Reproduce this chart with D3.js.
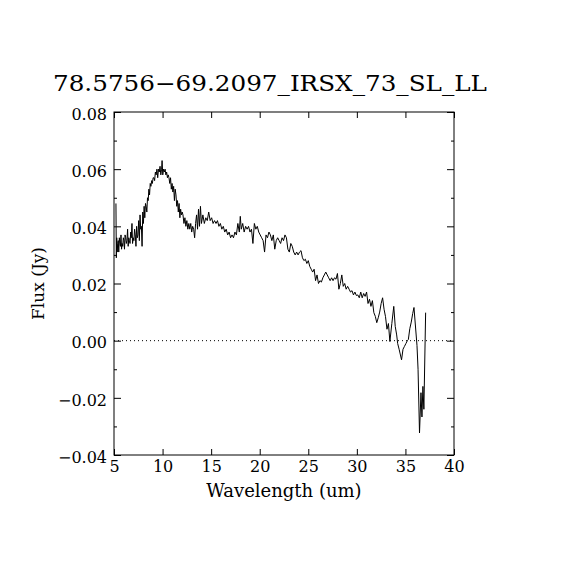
<!DOCTYPE html>
<html lang="en">
<head>
<meta charset="utf-8">
<title>IRS spectrum</title>
<script src="https://cdnjs.cloudflare.com/ajax/libs/d3/7.8.5/d3.min.js"></script>
<style>
  body { margin: 0; background: #fff; }
  text { font-family: "DejaVu Serif", "Liberation Serif", serif; fill: #000; }
</style>
</head>
<body>
<script>
var w = 570, h = 570;
var x0 = 114, x1 = 454, y0 = 112, y1 = 455;

var title = "78.5756\u221269.2097_IRSX_73_SL_LL";
var xLabel = "Wavelength (um)";
var yLabel = "Flux (Jy)";
var xTicks = [5, 10, 15, 20, 25, 30, 35, 40];
var yTicks = [-0.04, -0.02, 0.00, 0.02, 0.04, 0.06, 0.08];
var yMinor = [-0.03, -0.01, 0.01, 0.03, 0.05, 0.07];

// wavelength (um)
var wave = [
  5.20, 5.24, 5.28, 5.33, 5.38, 5.44, 5.49, 5.55, 5.61, 5.66, 5.72, 5.78,
  5.83, 5.90, 5.96, 6.02, 6.08, 6.14, 6.20, 6.27, 6.33, 6.40, 6.46, 6.52,
  6.59, 6.65, 6.72, 6.78, 6.85, 6.91, 6.98, 7.05, 7.12, 7.19, 7.26, 7.33,
  7.40, 7.47, 7.54, 7.61, 7.68, 7.75, 7.82, 7.89, 7.96, 8.03, 8.10, 8.17,
  8.24, 8.31, 8.38, 8.45, 8.52, 8.59, 8.66, 8.73, 8.80, 8.88, 8.95, 9.03,
  9.10, 9.18, 9.26, 9.34, 9.42, 9.50, 9.58, 9.66, 9.74, 9.82, 9.90, 9.95,
  10.02, 10.10, 10.18, 10.26, 10.34, 10.42, 10.50, 10.58, 10.66, 10.74, 10.82, 10.90,
  10.98, 11.06, 11.14, 11.22, 11.30, 11.38, 11.46, 11.54, 11.62, 11.70, 11.78, 11.86,
  11.94, 12.02,
  12.10, 12.20, 12.30, 12.40, 12.50, 12.60, 12.70, 12.80,
  12.90, 13.00, 13.10, 13.20, 13.30, 13.40, 13.50, 13.60, 13.70, 13.80, 13.90, 14.00,
  14.15, 14.30, 14.45, 14.60, 14.75, 14.90, 15.05, 15.20,
  15.35, 15.50, 15.65, 15.80, 15.95, 16.10, 16.25, 16.40, 16.55, 16.70, 16.85, 17.00,
  17.15, 17.30, 17.45, 17.60, 17.75, 17.90, 18.00, 18.10, 18.25, 18.40, 18.55, 18.70,
  18.85, 19.00, 19.15, 19.30, 19.45, 19.60, 19.75, 19.90, 20.05, 20.20, 20.35, 20.50,
  20.65, 20.80, 20.95, 21.10, 21.25, 21.40, 21.55, 21.70, 21.85, 22.00, 22.15, 22.30,
  22.45, 22.60, 22.75, 22.90, 23.05, 23.20, 23.35, 23.50, 23.65, 23.80, 23.95, 24.10,
  24.25, 24.40, 24.55, 24.70, 24.85, 25.00, 25.15, 25.30, 25.45, 25.60, 25.75, 25.90,
  26.05, 26.20, 26.35, 26.50, 26.65, 26.80, 26.95, 27.10, 27.25, 27.40, 27.55, 27.70,
  27.85, 28.00, 28.15, 28.30, 28.45, 28.60, 28.75, 28.90, 29.05, 29.20, 29.35, 29.50,
  29.65, 29.80, 29.95, 30.10, 30.25, 30.40, 30.55, 30.70, 30.85, 31.00, 31.15, 31.30,
  31.45, 31.60, 31.75, 31.90, 32.05, 32.20, 32.35, 32.50, 32.65, 32.80, 32.95, 33.10,
  33.25, 33.40, 33.60, 33.80, 33.95, 34.10, 34.20, 34.35, 34.60, 34.75, 34.90, 35.05,
  35.20, 35.30, 35.45, 35.60, 35.75, 35.88, 36.19, 36.30, 36.45, 36.60, 36.70, 36.80,
  36.90, 37.08
];

// flux (Jy)
var flux = [
  0.048, 0.029, 0.036, 0.031, 0.034, 0.035, 0.031, 0.036, 0.034, 0.033, 0.037, 0.032,
  0.034, 0.033, 0.036, 0.035, 0.032, 0.037, 0.036, 0.034, 0.035, 0.039, 0.033, 0.036,
  0.035, 0.034, 0.038, 0.036, 0.041, 0.034, 0.036, 0.035, 0.039, 0.037, 0.033, 0.040,
  0.036, 0.037, 0.042, 0.035, 0.044, 0.039, 0.040, 0.033, 0.045, 0.041, 0.047, 0.043,
  0.048, 0.047, 0.045, 0.050, 0.049, 0.053, 0.051, 0.055, 0.054, 0.056, 0.055, 0.057,
  0.057, 0.056, 0.059, 0.058, 0.060, 0.057, 0.060, 0.059, 0.061, 0.058, 0.060, 0.063,
  0.058, 0.060, 0.059, 0.060, 0.058, 0.059, 0.057, 0.058, 0.057, 0.055, 0.057, 0.053,
  0.055, 0.052, 0.054, 0.049, 0.053, 0.051, 0.047, 0.049, 0.045, 0.048, 0.043, 0.046,
  0.044, 0.045,
  0.044, 0.041, 0.043, 0.040, 0.042, 0.039, 0.041, 0.039,
  0.041, 0.038, 0.040, 0.039, 0.036, 0.041, 0.044, 0.039, 0.046, 0.040, 0.047, 0.041,
  0.044, 0.041, 0.043, 0.042, 0.045, 0.042, 0.043, 0.041,
  0.042, 0.041, 0.042, 0.040, 0.041, 0.039, 0.040, 0.038, 0.039, 0.037, 0.038, 0.036,
  0.037, 0.036, 0.038, 0.037, 0.041, 0.038, 0.0435, 0.039, 0.041, 0.038, 0.040, 0.039,
  0.040, 0.038, 0.039, 0.034, 0.041, 0.039, 0.040, 0.038, 0.037, 0.036, 0.035, 0.031,
  0.037, 0.036, 0.038, 0.037, 0.035, 0.037, 0.032, 0.035, 0.036, 0.035, 0.034, 0.036,
  0.035, 0.037, 0.036, 0.032, 0.031, 0.034, 0.033, 0.031, 0.030, 0.031, 0.030, 0.031,
  0.0315, 0.029, 0.028, 0.0285, 0.027, 0.028, 0.026, 0.025, 0.024, 0.025, 0.021, 0.023,
  0.020, 0.021, 0.0205, 0.022, 0.023, 0.024, 0.023, 0.022, 0.021, 0.022, 0.021, 0.022,
  0.0215, 0.0235, 0.018, 0.020, 0.023, 0.019, 0.020, 0.018, 0.019, 0.018, 0.017, 0.0175,
  0.016, 0.017, 0.0158, 0.016, 0.015, 0.017, 0.015, 0.0165, 0.0155, 0.017, 0.013, 0.0145,
  0.012, 0.014, 0.0098, 0.0085, 0.0063, 0.008, 0.010, 0.013, 0.015, 0.011, 0.0084, 0.004,
  0.006, -0.0003, 0.006, 0.012, 0.005, 0.002, -0.001, -0.003, -0.0067, -0.003, -0.002, -0.001,
  0.000, 0.0004, 0.0042, 0.0065, 0.0095, 0.0116, -0.0017, -0.010, -0.0323, -0.0182, -0.0267, -0.016,
  -0.024, 0.0098
];

var svg = d3.select("body").append("svg")
  .attr("width", w)
  .attr("height", h);

svg.append("rect").attr("width", w).attr("height", h).attr("fill", "#fff");

var x = d3.scaleLinear().domain([5, 40]).range([x0, x1]);
var y = d3.scaleLinear().domain([-0.04, 0.08]).range([y1, y0]);

// zero line
svg.append("line")
  .attr("x1", x(5)).attr("x2", x(40))
  .attr("y1", y(0)).attr("y2", y(0))
  .attr("stroke", "#000")
  .attr("stroke-width", 1)
  .attr("stroke-dasharray", "1,3");

// spectrum
var pts = wave.map(function(d, i) { return [d, flux[i]]; });
svg.append("path")
  .datum(pts)
  .attr("fill", "none")
  .attr("stroke", "#000")
  .attr("stroke-width", 1)
  .attr("d", d3.line().x(function(d) { return x(d[0]); }).y(function(d) { return y(d[1]); }));

// frame
svg.append("rect")
  .attr("x", x0).attr("y", y0)
  .attr("width", x1 - x0).attr("height", y1 - y0)
  .attr("fill", "none")
  .attr("stroke", "#000")
  .attr("stroke-width", 1);

// axes with inward ticks
var fmtY = function(d) { return d3.format(".2f")(d).replace("-", "\u2212"); };

var xb = svg.append("g").attr("transform", "translate(0," + y1 + ")")
  .call(d3.axisBottom(x).tickValues(xTicks).tickSize(-6).tickPadding(6));
var xt = svg.append("g").attr("transform", "translate(0," + y0 + ")")
  .call(d3.axisTop(x).tickValues(xTicks).tickSize(-6).tickFormat(""));
var yl = svg.append("g").attr("transform", "translate(" + x0 + ",0)")
  .call(d3.axisLeft(y).tickValues(yTicks).tickSize(-7).tickPadding(7).tickFormat(fmtY));
var yr = svg.append("g").attr("transform", "translate(" + x1 + ",0)")
  .call(d3.axisRight(y).tickValues(yTicks).tickSize(-7).tickFormat(""));
var ylm = svg.append("g").attr("transform", "translate(" + x0 + ",0)")
  .call(d3.axisLeft(y).tickValues(yMinor).tickSize(-3).tickFormat(""));
var yrm = svg.append("g").attr("transform", "translate(" + x1 + ",0)")
  .call(d3.axisRight(y).tickValues(yMinor).tickSize(-3).tickFormat(""));

[xb, xt, yl, yr, ylm, yrm].forEach(function(g) {
  g.select(".domain").remove();
  g.selectAll("line").attr("stroke", "#000");
  g.selectAll("text")
    .attr("font-family", "DejaVu Serif, Liberation Serif, serif")
    .attr("font-size", 16)
    .attr("fill", "#000");
});
yl.selectAll("text").attr("dy", "0.45em");

// title and labels
svg.append("text")
  .attr("x", 270).attr("y", 91)
  .attr("text-anchor", "middle")
  .attr("font-size", 22)
  .attr("textLength", 434)
  .attr("lengthAdjust", "spacingAndGlyphs")
  .text(title);

svg.append("text")
  .attr("x", (x0 + x1) / 2).attr("y", 497)
  .attr("text-anchor", "middle")
  .attr("font-size", 18)
  .text(xLabel);

svg.append("text")
  .attr("transform", "translate(44," + ((y0 + y1) / 2) + ") rotate(-90)")
  .attr("text-anchor", "middle")
  .attr("font-size", 17)
  .text(yLabel);
</script>
</body>
</html>
